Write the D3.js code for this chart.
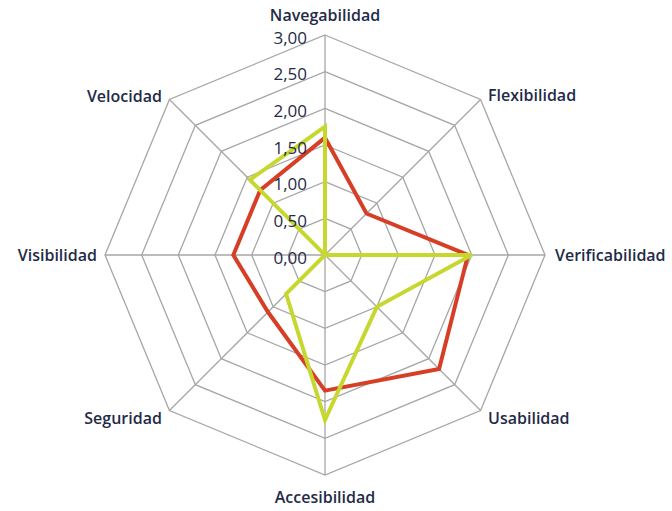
<!DOCTYPE html>
<html>
<head>
<meta charset="utf-8">
<script src="https://cdn.jsdelivr.net/npm/d3@7"></script>
<style>
  body { margin: 0; background: #fff; }
  svg text { font-family: "Open Sans", "Liberation Sans", sans-serif; fill: #1f2b48; }
</style>
</head>
<body>
<svg id="chart" width="672" height="511"></svg>
<script>
const axes = ["Navegabilidad", "Flexibilidad", "Verificabilidad", "Usabilidad",
  "Accesibilidad", "Seguridad", "Visibilidad", "Velocidad"];
const redValues = [1.6, 0.8, 1.95, 2.2, 1.85, 1.1, 1.25, 1.25];
const yellowValues = [1.75, 0, 2.0, 1.0, 2.25, 0.75, 0, 1.45];
const ticks = [0, 0.5, 1, 1.5, 2, 2.5, 3];
const tickLabels = ["0,00", "0,50", "1,00", "1,50", "2,00", "2,50", "3,00"];

const CX = 325, CY = 255, R = 220;
const svg = d3.select("#chart");
const r = d3.scaleLinear().domain([0, 3]).range([0, R]);
const angle = d3.scaleLinear().domain([0, axes.length]).range([0, 2 * Math.PI]);

const pt = (i, v) => [CX + r(v) * Math.sin(angle(i)), CY - r(v) * Math.cos(angle(i))];

const grid = svg.append("g").attr("stroke", "#a6a6a6").attr("stroke-width", 1.3).attr("fill", "none");
ticks.slice(1).forEach((t) => {
  grid.append("polygon").attr("points", axes.map((_, i) => pt(i, t).join(",")).join(" "));
});
axes.forEach((_, i) => {
  const [x, y] = pt(i, 3);
  grid.append("line").attr("x1", CX).attr("y1", CY).attr("x2", x).attr("y2", y);
});

const line = d3.line().curve(d3.curveLinearClosed);
const drawSeries = (vals, color) => {
  svg.append("path")
    .attr("d", line(vals.map((v, i) => pt(i, v))))
    .attr("fill", "none").attr("stroke", color)
    .attr("stroke-width", 4).attr("stroke-linejoin", "miter");
};
drawSeries(redValues, "#d63f26");
drawSeries(yellowValues, "#c6d82e");

svg.append("g").selectAll("text").data(ticks).join("text")
  .attr("x", CX - 18).attr("y", (d) => CY - r(d) + 4)
  .attr("text-anchor", "end").attr("dominant-baseline", "middle")
  .attr("font-size", 17).text((d, i) => tickLabels[i]);

// label offsets from the end of each axis: [dx, dy, anchor]
const labelOffset = [
  [0, -18.5, "middle"], [7.5, -3, "start"], [10, 2, "start"], [7.5, 9.5, "start"],
  [0, 24, "middle"], [-7.5, 9.5, "end"], [-8, 2, "end"], [-7.5, -1.5, "end"]
];
svg.append("g").selectAll("text").data(axes).join("text")
  .attr("x", (d, i) => pt(i, 3)[0] + labelOffset[i][0])
  .attr("y", (d, i) => pt(i, 3)[1] + labelOffset[i][1])
  .attr("text-anchor", (d, i) => labelOffset[i][2])
  .attr("dominant-baseline", "middle")
  .attr("font-size", 16).attr("font-weight", 600)
  .text((d) => d);
</script>
</body>
</html>
